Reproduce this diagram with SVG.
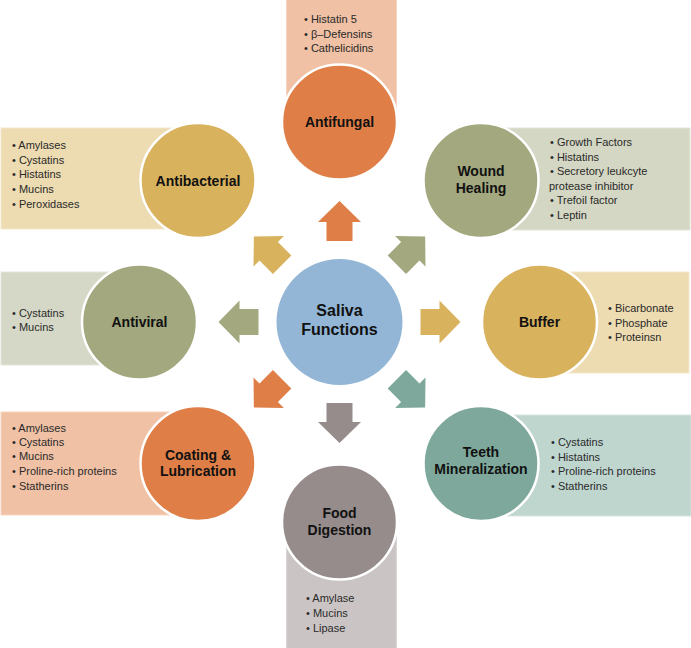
<svg xmlns="http://www.w3.org/2000/svg" xmlns:xlink="http://www.w3.org/1999/xlink" width="691" height="648" viewBox="0 0 691 648">
<defs>
<style>
.lbl{font-family:"Liberation Sans",Arial,sans-serif;font-weight:bold;font-size:14px;fill:#111;text-anchor:middle}
.big{font-size:16px}
.li{font-family:"Liberation Sans",Arial,sans-serif;font-size:11px;fill:#2a2a2a}
.circ{stroke:#fff;stroke-width:2.5}
.box{stroke-width:1}
</style>
<path id="arr" d="M0,-20 L21.5,1 L13,1 L13,20 L-13,20 L-13,1 L-21.5,1 Z"/>
</defs>
<rect width="691" height="648" fill="#fff"/>

<g id="connectors">
<use xlink:href="#arr" transform="translate(339.5,221)" fill="#DF7F47"/>
<use xlink:href="#arr" transform="translate(411,250.6) rotate(45)" fill="#A3A87F"/>
<use xlink:href="#arr" transform="translate(440.5,322) rotate(90)" fill="#D9B25E"/>
<use xlink:href="#arr" transform="translate(411,393.4) rotate(135)" fill="#7DA89B"/>
<use xlink:href="#arr" transform="translate(339.5,423) rotate(180)" fill="#968C8B"/>
<use xlink:href="#arr" transform="translate(268,393.4) rotate(225)" fill="#DF7F47"/>
<use xlink:href="#arr" transform="translate(238.5,322) rotate(270)" fill="#A3A87F"/>
<use xlink:href="#arr" transform="translate(268,250.6) rotate(315)" fill="#D9B25E"/>
</g>

<g id="center">
<circle cx="339.5" cy="322" r="63" fill="#93B6D6"/>
<text class="lbl big" x="339.5" y="316">Saliva</text>
<text class="lbl big" x="339.5" y="335">Functions</text>
</g>

<g id="antifungal">
<rect class="box" x="286.5" y="-1" width="110" height="123" fill="#F0C1A4" stroke="#F6D6C2"/>
<text class="li" x="304" y="23">• Histatin 5</text>
<text class="li" x="304" y="38">• β–Defensins</text>
<text class="li" x="304" y="52">• Cathelicidins</text>
<circle class="circ" cx="339.5" cy="122" r="57.5" fill="#DF7F47"/>
<text class="lbl" x="339.5" y="127">Antifungal</text>
</g>

<g id="antibacterial">
<rect class="box" x="1" y="128" width="197" height="101" fill="#EDDBB1" stroke="#F4E8CC"/>
<text class="li" x="12" y="149">• Amylases</text>
<text class="li" x="12" y="164">• Cystatins</text>
<text class="li" x="12" y="178">• Histatins</text>
<text class="li" x="12" y="193">• Mucins</text>
<text class="li" x="12" y="208">• Peroxidases</text>
<circle class="circ" cx="198" cy="180.5" r="57.5" fill="#D9B25E"/>
<text class="lbl" x="198" y="185.5">Antibacterial</text>
</g>

<g id="wound-healing">
<rect class="box" x="481" y="128" width="209" height="102" fill="#D4D7C3" stroke="#E3E5D8"/>
<text class="li" x="550" y="146">• Growth Factors</text>
<text class="li" x="550" y="161">• Histatins</text>
<text class="li" x="550" y="175">• Secretory leukcyte</text>
<text class="li" x="549" y="190">protease inhibitor</text>
<text class="li" x="550" y="204">• Trefoil factor</text>
<text class="li" x="550" y="219">• Leptin</text>
<circle class="circ" cx="481" cy="180.5" r="57.5" fill="#A3A87F"/>
<text class="lbl" x="481" y="176">Wound</text>
<text class="lbl" x="481" y="193">Healing</text>
</g>

<g id="antiviral">
<rect class="box" x="1" y="272" width="138" height="93" fill="#D5D8C6" stroke="#E3E5D8"/>
<text class="li" x="12" y="317">• Cystatins</text>
<text class="li" x="12" y="331">• Mucins</text>
<circle class="circ" cx="139.5" cy="322" r="57.5" fill="#A3A87F"/>
<text class="lbl" x="139.5" y="327">Antiviral</text>
</g>

<g id="buffer">
<rect class="box" x="539" y="272" width="150" height="101" fill="#EDDBB1" stroke="#F4E8CC"/>
<text class="li" x="608" y="312">• Bicarbonate</text>
<text class="li" x="608" y="327">• Phosphate</text>
<text class="li" x="608" y="341">• Proteinsn</text>
<circle class="circ" cx="539.5" cy="322" r="57.5" fill="#D9B25E"/>
<text class="lbl" x="539.5" y="327">Buffer</text>
</g>

<g id="coating-lubrication">
<rect class="box" x="1" y="412" width="197" height="103" fill="#F0C1A4" stroke="#F6D6C2"/>
<text class="li" x="12" y="432">• Amylases</text>
<text class="li" x="12" y="446">• Cystatins</text>
<text class="li" x="12" y="460">• Mucins</text>
<text class="li" x="12" y="475">• Proline-rich proteins</text>
<text class="li" x="12" y="490">• Statherins</text>
<circle class="circ" cx="198" cy="463.5" r="57.5" fill="#DF7F47"/>
<text class="lbl" x="198" y="459.5">Coating &amp;</text>
<text class="lbl" x="198" y="476">Lubrication</text>
</g>

<g id="teeth-mineralization">
<rect class="box" x="481" y="415" width="210" height="101" fill="#BFD6CF" stroke="#D5E4DF"/>
<text class="li" x="551" y="446">• Cystatins</text>
<text class="li" x="551" y="461">• Histatins</text>
<text class="li" x="551" y="475">• Proline-rich proteins</text>
<text class="li" x="551" y="490">• Statherins</text>
<circle class="circ" cx="481" cy="463.5" r="57.5" fill="#7DA89B"/>
<text class="lbl" x="481" y="457">Teeth</text>
<text class="lbl" x="481" y="474">Mineralization</text>
</g>

<g id="food-digestion">
<rect class="box" x="286.5" y="522" width="110" height="127" fill="#CAC5C4" stroke="#DAD6D5"/>
<text class="li" x="306" y="602">• Amylase</text>
<text class="li" x="306" y="617">• Mucins</text>
<text class="li" x="306" y="632">• Lipase</text>
<circle class="circ" cx="339.5" cy="522" r="57.5" fill="#968C8B"/>
<text class="lbl" x="339.5" y="518">Food</text>
<text class="lbl" x="339.5" y="535">Digestion</text>
</g>
</svg>
